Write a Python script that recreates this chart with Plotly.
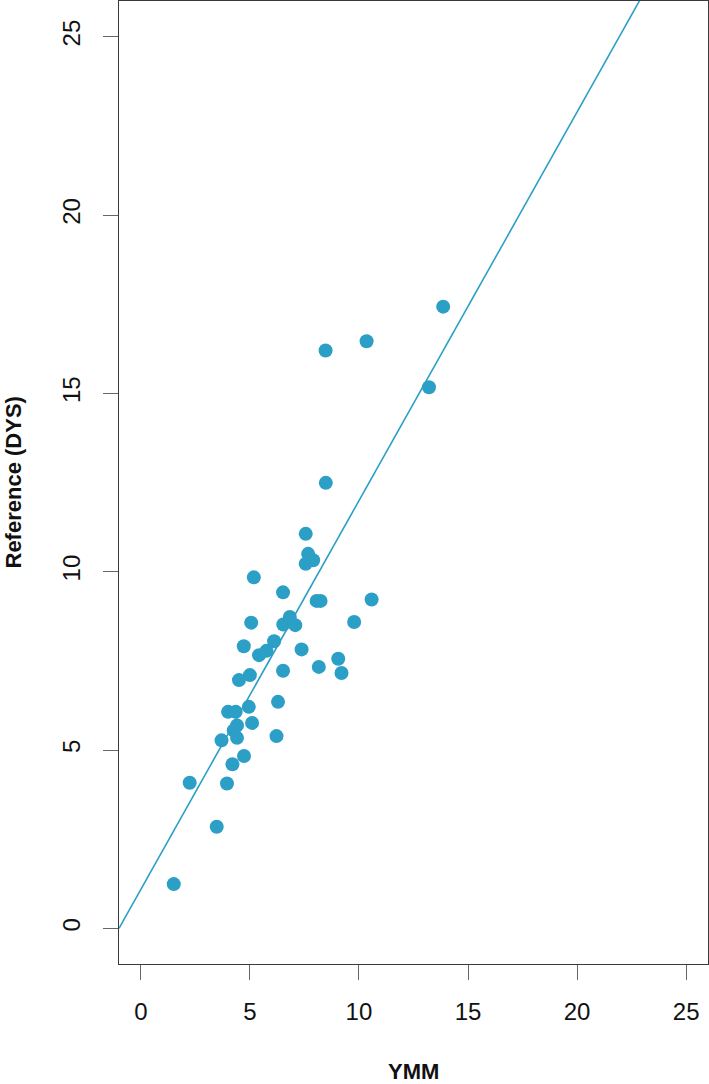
import plotly.graph_objects as go

# YMM vs reference (DYS) values
ymm = [13.86, 10.35, 8.47, 13.21, 8.48, 7.56, 7.67, 7.90, 7.56, 5.18,
       6.52, 8.06, 8.24, 10.58, 5.06, 6.53, 6.83, 7.08, 9.78, 4.72,
       6.11, 5.76, 5.42, 7.37, 8.16, 9.05, 9.20, 6.52, 5.00, 4.50,
       4.95, 4.00, 4.35, 6.29, 4.41, 5.10, 4.26, 4.41, 3.70, 6.22,
       4.73, 4.20, 2.24, 3.95, 3.48, 1.51]
dys = [17.43, 16.46, 16.20, 15.17, 12.49, 11.06, 10.50, 10.32, 10.22, 9.84,
       9.42, 9.18, 9.18, 9.22, 8.57, 8.52, 8.73, 8.50, 8.59, 7.91,
       8.05, 7.78, 7.66, 7.82, 7.33, 7.56, 7.16, 7.22, 7.10, 6.96,
       6.21, 6.07, 6.07, 6.35, 5.69, 5.76, 5.55, 5.34, 5.27, 5.39,
       4.83, 4.60, 4.08, 4.06, 2.85, 1.24]

# fitted line y = intercept + slope * x
intercept = 1.09
slope = 1.09
line_x = [-1, 26]
line_y = [intercept + slope * v for v in line_x]

tick_vals = [0, 5, 10, 15, 20, 25]
color = '#2c9fc6'
font_name = 'Liberation Sans, Arial, sans-serif'

fig = go.Figure()
fig.add_trace(go.Scatter(
    x=line_x, y=line_y, mode='lines',
    line=dict(color=color, width=1.6), showlegend=False,
))
fig.add_trace(go.Scatter(
    x=ymm, y=dys, mode='markers',
    marker=dict(color=color, size=14, line=dict(width=0)),
    showlegend=False,
))

axis_common = dict(
    range=[-1, 26], tickvals=tick_vals,
    showgrid=False, zeroline=False,
    showline=True, mirror=True, linecolor='#3a3a3a', linewidth=1,
    ticks='outside', ticklen=15, tickwidth=1, tickcolor='#666',
    tickfont=dict(family=font_name, size=24, color='#111'),
)

fig.update_xaxes(**axis_common, ticklabelstandoff=11)
fig.update_yaxes(**axis_common, tickangle=-90, ticklabelstandoff=13)

fig.update_layout(
    width=709, height=1084,
    margin=dict(l=119, r=1, t=1, b=120),
    paper_bgcolor='white', plot_bgcolor='white',
    font=dict(family=font_name, color='#111'),
    annotations=[
        dict(text='<b>YMM</b>', xref='paper', yref='paper', x=0.5, y=0,
             yshift=-107, xanchor='center', yanchor='middle', showarrow=False,
             font=dict(family=font_name, size=22, color='#111')),
        dict(text='<b>Reference (DYS)</b>', xref='paper', yref='paper', x=0, y=0.5,
             xshift=-106, xanchor='center', yanchor='middle', textangle=-90,
             showarrow=False, font=dict(family=font_name, size=22, color='#111')),
    ],
)

# page body has a default 8px margin; drop it so the figure sits at the corner
fig.write_html("out.html", config={'displayModeBar': False},
               post_script="document.body.style.margin='0';")
